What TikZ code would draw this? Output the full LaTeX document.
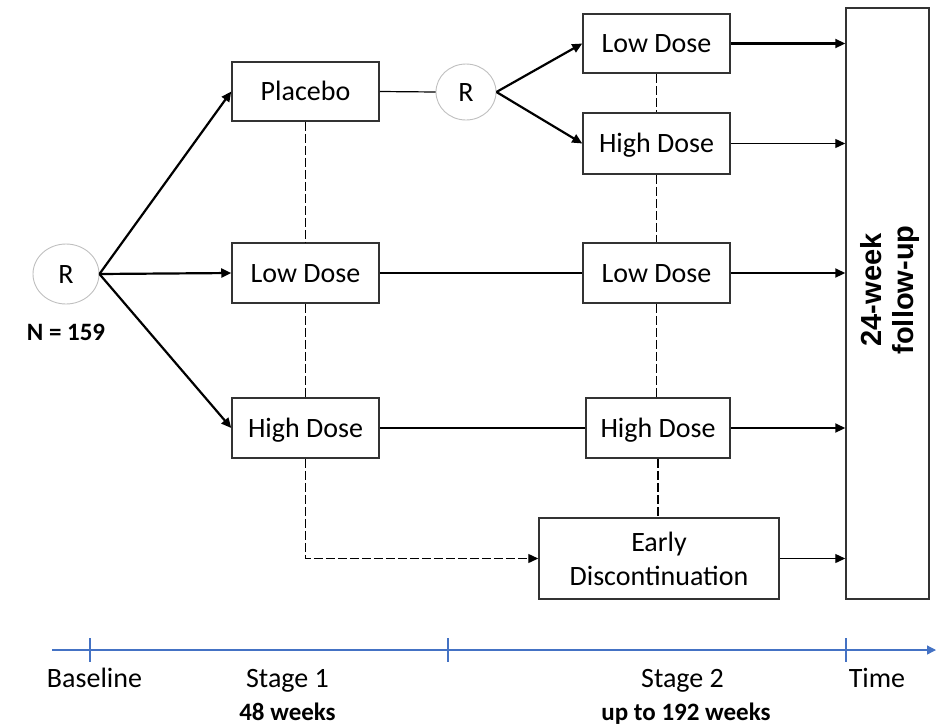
\documentclass[tikz,border=0pt]{standalone}
\usepackage{fontspec}
\setmainfont{Carlito}
\newfontfamily\fuFont{Liberation Sans}
\usetikzlibrary{arrows.meta,shapes.geometric,calc}
\definecolor{boxline}{HTML}{333333}
\definecolor{ringgray}{HTML}{BFBFBF}
\definecolor{axisblue}{HTML}{4472C4}
\tikzset{
  armbox/.style={draw=boxline, line width=1.5pt, minimum width=147pt, minimum height=59pt,
    inner sep=0pt, font=\fontsize{28}{34}\selectfont, text height=18pt, text depth=0pt},
  earlybox/.style={draw=boxline, line width=1.5pt, minimum width=240pt, minimum height=81pt,
    inner sep=0pt, align=center, font=\fontsize{28}{34}\selectfont},
  fubox/.style={draw=boxline, line width=1.5pt, minimum width=83pt, minimum height=591pt, inner sep=0pt},
  randnode/.style={ellipse, draw=ringgray, line width=0.9pt, inner sep=0pt,
    font=\fontsize{28}{34}\selectfont, text height=18pt, text depth=0pt},
  tip/.style={-{Triangle[length=10pt,width=9pt]}},
  thickarrow/.style={line width=2.2pt, tip},
  thinline/.style={line width=1.2pt},
  thinarrow/.style={line width=1.3pt, tip},
  dashline/.style={line width=1.4pt, dash pattern=on 9pt off 3pt},
  axisline/.style={draw=axisblue, line width=1.3pt},
  axislabel/.style={anchor=base, font=\fontsize{28}{34}\selectfont},
  axisnote/.style={anchor=base, font=\bfseries\fontsize{25}{30}\selectfont},
}
\begin{document}
\begin{tikzpicture}[x=1pt, y=-1pt]
\useasboundingbox (0,0) rectangle (942,726);

% randomisation points
\node[randnode, minimum width=66pt, minimum height=60pt] (r1) at (66,274) {R};
\node[anchor=base, font=\bfseries\fontsize{25}{30}\selectfont] (ncount) at (66,340) {N = 159};
\node[randnode, minimum width=60pt, minimum height=56pt] (r2) at (466,92) {R};

% stage 1 arms
\node[armbox] (plac) at (305.5,91.5) {Placebo};
\node[armbox, minimum height=60pt] (low1) at (305.5,273) {Low Dose};
\node[armbox, minimum height=60pt] (high1) at (305.5,428) {High Dose};

% stage 2 arms
\node[armbox] (low2a) at (656.5,43.5) {Low Dose};
\node[armbox, minimum height=61pt] (high2a) at (656.5,143.5) {High Dose};
\node[armbox, minimum height=60pt] (low2b) at (656.5,273) {Low Dose};
\node[armbox, minimum width=144pt, minimum height=60pt] (high2b) at (658,428) {High Dose};
\node[earlybox] (early) at (659,558.5) {Early\\Discontinuation};

% follow-up column
\node[fubox] (fu) at (887.5,303.5) {};
\node[rotate=90, align=center, font=\fuFont\bfseries\fontsize{29}{32}\selectfont] (futext) at (890,290) {24-week\\follow-up};

% first randomisation
\draw[thickarrow] (r1.east) -- (plac.west);
\draw[thickarrow] (r1.east) -- (low1.west);
\draw[thickarrow] (r1.east) -- (high1.west);

% placebo re-randomisation
\draw[thinline] (plac.east) -- (r2.west);
\draw[thickarrow] (r2.east) -- (low2a.west);
\draw[thickarrow] (r2.east) -- (high2a.west);

% continuing arms
\draw[thinline] (low1.east) -- (low2b.west);
\draw[thinline] (high1.east) -- (high2b.west);

% links between arms
\draw[dashline] (plac.south) -- (low1.north);
\draw[dashline] (low1.south) -- (high1.north);
\draw[dashline, tip] (high1.south) |- (early.west);
\draw[dashline] (low2a.south) -- (high2a.north);
\draw[dashline] (high2a.south) -- (low2b.north);
\draw[dashline] (low2b.south) -- (low2b.south |- high2b.north);
\draw[dashline] (high2b.south) -- (high2b.south |- early.north);

% into follow-up
\draw[thickarrow] (low2a.east) -- (low2a.east -| fu.west);
\draw[thinarrow] (high2a.east) -- (high2a.east -| fu.west);
\coordinate (lowmid) at ($(low2b.east)+(45,0)$);
\draw[thinline] (low2b.east) -- (lowmid);
\draw[thickarrow] (lowmid) -- (lowmid -| fu.west);
\draw[thickarrow] (high2b.east) -- (high2b.east -| fu.west);
\draw[thinarrow] (early.east) -- (early.east -| fu.west);

% time axis
\coordinate (axstart) at (52,650);
\coordinate (axend) at (936,650);
\draw[axisline, -{Triangle[length=9pt,width=9pt]}] (axstart) -- (axend);
\foreach \tx in {90,448,846} \draw[axisline] (\tx,638) -- (\tx,662);
\node[axislabel] (base) at (94.5,687) {Baseline};
\node[axislabel] (st1) at (287.5,687) {Stage 1};
\node[axisnote] (st1d) at (287.5,720) {48 weeks};
\node[axislabel] (st2) at (682.5,687) {Stage 2};
\node[axisnote] (st2d) at (686,720) {up to 192 weeks};
\node[axislabel] (tm) at (877,687) {Time};
\end{tikzpicture}
\end{document}
